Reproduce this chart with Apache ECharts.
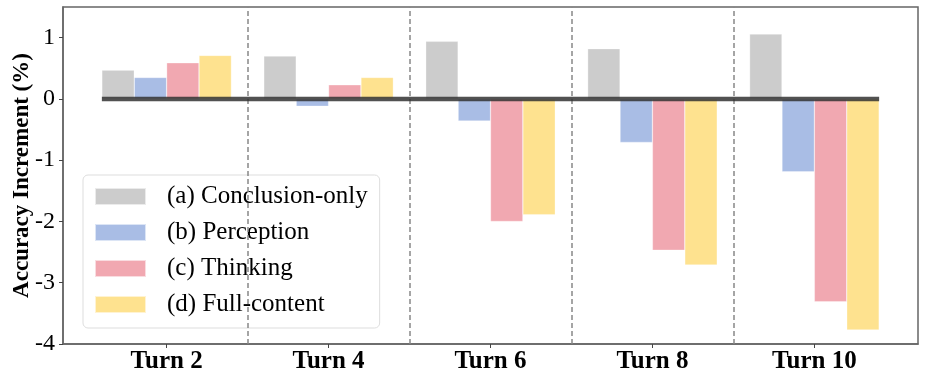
<!DOCTYPE html>
<html>
<head>
<meta charset="utf-8">
<script src="https://cdn.jsdelivr.net/npm/echarts@6/dist/echarts.min.js"></script>
<style>
  html, body { margin: 0; padding: 0; background: #fff; }
  #main { width: 926px; height: 382px; }
</style>
</head>
<body>
<div id="main"></div>
<script>
let turns = ['Turn 2', 'Turn 4', 'Turn 6', 'Turn 8', 'Turn 10'];
let seriesNames = ['(a) Conclusion-only', '(b) Perception', '(c) Thinking', '(d) Full-content'];
let conclusionOnly = [0.47, 0.70, 0.94, 0.82, 1.06];
let perception = [0.35, -0.12, -0.36, -0.71, -1.19];
let thinking = [0.59, 0.23, -2.00, -2.47, -3.31];
let fullContent = [0.71, 0.35, -1.89, -2.71, -3.77];
let yTicks = [-4, -3, -2, -1, 0, 1];

let colors = ['#cccccc', '#a9bde5', '#f1a8b1', '#fee28f'];
let allValues = [conclusionOnly, perception, thinking, fullContent];
let serif = '"Liberation Serif", "Times New Roman", serif';

// turn index positions on a value axis (matplotlib style)
let positions = turns.map((t, i) => i);
let separators = positions.slice(1).map((p) => ({ xAxis: p - 0.5 }));

let series = allValues.map((vals, k) => ({
    name: seriesNames[k],
    type: 'bar',
    data: vals.map((v, i) => [positions[i], v]),
    barGap: '0%',
    barCategoryGap: '20%',
    itemStyle: { color: colors[k], borderColor: 'rgba(255,255,255,0.6)', borderWidth: 0.5 },
    z: 2
}));

// thick zero line over the bars, carrying the dashed turn separators
series.push({
    type: 'line',
    data: [[positions[0] - 0.4, 0], [positions[positions.length - 1] + 0.4, 0]],
    symbol: 'none',
    lineStyle: { color: '#333', width: 4.5, opacity: 0.85 },
    z: 5,
    silent: true,
    markLine: {
        silent: true,
        symbol: 'none',
        label: { show: false },
        lineStyle: { color: '#888', type: [5, 3], width: 1.5, opacity: 1 },
        data: separators
    }
});

var myChart = echarts.init(document.getElementById('main'));
var option = {
    animation: false,
    grid: {
        left: 63, right: 8, top: 7, bottom: 38,
        outerBoundsMode: 'none',
        containLabel: false,
        show: true, borderColor: '#666', borderWidth: 1.5
    },
    legend: {
        data: seriesNames,
        orient: 'vertical',
        left: 83, top: 175,
        itemWidth: 51, itemHeight: 17,
        itemGap: 11,
        icon: 'rect',
        padding: [9, 12, 11, 11],
        backgroundColor: 'rgba(255,255,255,0.8)',
        borderColor: '#ddd',
        borderWidth: 1,
        borderRadius: 5,
        textStyle: { fontFamily: serif, fontSize: 25, color: '#000', padding: [0, 0, 0, 16] }
    },
    xAxis: {
        type: 'value',
        min: -0.64,
        max: 4.64,
        splitLine: { show: false },
        axisLine: { show: true, onZero: false, lineStyle: { color: '#666', width: 1.5 } },
        axisTick: { show: true, customValues: positions, length: 4, lineStyle: { color: '#444' } },
        axisLabel: {
            customValues: positions,
            formatter: (v) => turns[Math.round(v)],
            fontFamily: serif, fontSize: 25, fontWeight: 'bold', color: '#000', margin: 5
        }
    },
    yAxis: {
        type: 'value',
        min: yTicks[0],
        max: 1.5,
        name: 'Accuracy Increment (%)',
        nameLocation: 'middle',
        nameGap: 29,
        nameMoveOverlap: false,
        nameTextStyle: { fontFamily: serif, fontSize: 23, fontWeight: 'bold', color: '#000' },
        splitLine: { show: false },
        axisLine: { show: true, onZero: false, lineStyle: { color: '#666', width: 1.5 } },
        axisTick: { show: true, customValues: yTicks, length: 4, lineStyle: { color: '#444' } },
        axisLabel: {
            customValues: yTicks,
            fontFamily: serif, fontSize: 24, color: '#000', margin: 8
        }
    },
    series: series
};
myChart.setOption(option);
</script>
</body>
</html>
